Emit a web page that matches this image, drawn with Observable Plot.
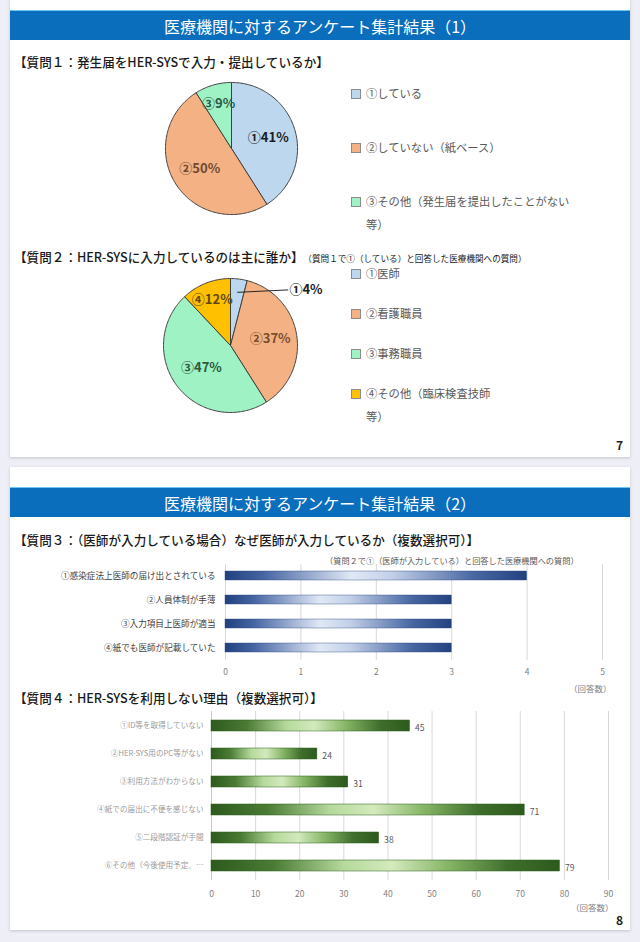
<!DOCTYPE html>
<html><head><meta charset="utf-8">
<script src="https://cdn.jsdelivr.net/npm/d3@7"></script>
<script src="https://cdn.jsdelivr.net/npm/@observablehq/plot@0.6"></script>
<style>
body{margin:0;width:640px;height:942px;background:#eeeef6;font-family:"Noto Sans CJK JP","Noto Sans",sans-serif;position:relative;overflow:hidden}
.card{position:absolute;left:10px;width:620px;background:#fff;box-shadow:0 1px 3px rgba(0,0,0,.18)}
.title{position:absolute;left:10px;width:620px;height:30px;background:#0a6ebd;color:#fff;font-size:16px;line-height:30px;text-align:center;border-top:1px solid #6fc3ee;box-sizing:border-box}
.abs{position:absolute;white-space:nowrap}
.h{font-size:12.6px;color:#1a1a1a;font-weight:500}
.leg{position:absolute;font-size:11.3px;color:#595959;line-height:23px}
.leg i{position:absolute;left:-15px;top:7px;width:8px;height:8px;border:1px solid #8c8c8c}
.pg{font-size:12px;font-weight:700;color:#222}
.unit{font-size:8.5px;color:#7f7f7f}
.plot{position:absolute}
</style></head>
<body>
<div class="card" style="top:-10px;height:467px"></div>
<div class="card" style="top:467px;height:463px"></div>
<div class="title" style="top:10px">医療機関に対するアンケート集計結果（1）</div>
<div class="title" style="top:487px">医療機関に対するアンケート集計結果（2）</div>

<div class="abs h" style="left:14px;top:52px">【質問１：発生届をHER-SYSで入力・提出しているか】</div>
<div class="abs h" style="left:14px;top:247px">【質問２：HER-SYSに入力しているのは主に誰か】<span style="font-size:8.6px;margin-left:4px;font-weight:400">（質問１で①（している）と回答した医療機関への質問）</span></div>
<div class="abs pg" style="left:616px;top:436px">7</div>

<div class="abs h" style="left:14px;top:530px;font-size:12.6px">【質問３：（医師が入力している場合）なぜ医師が入力しているか（複数選択可）】</div>
<div class="abs" style="left:325px;top:554px;font-size:8.2px;color:#595959">（質問２で①（医師が入力している）と回答した医療機関への質問）</div>
<div class="abs unit" style="left:569px;top:682px">（回答数）</div>
<div class="abs h" style="left:14px;top:688px">【質問４：HER-SYSを利用しない理由（複数選択可）】</div>
<div class="abs unit" style="left:571px;top:901px">（回答数）</div>
<div class="abs pg" style="left:616px;top:911px">8</div>

<div id="pie1" class="plot" style="left:161px;top:78px"></div>
<div id="pie2" class="plot" style="left:159px;top:274px"></div>
<div id="leg1"></div>
<div id="leg2"></div>
<div id="q3" class="plot" style="left:0;top:556px"></div>
<div id="q4" class="plot" style="left:0;top:704px"></div>

<script>
// ---------- data ----------
const q1Categories = ["①している", "②していない（紙ベース）", "③その他（発生届を提出したことがない等）"];
const q1Values = [41, 50, 9];
const q1Colors = ["#bdd7ee", "#f4b183", "#9ff2c4"];

const q2Categories = ["①医師", "②看護職員", "③事務職員", "④その他（臨床検査技師等）"];
const q2Values = [4, 37, 47, 12];
const q2Colors = ["#bdd7ee", "#f4b183", "#9ff2c4", "#ffc000"];

const q3Categories = ["①感染症法上医師の届け出とされている", "②人員体制が手薄", "③入力項目上医師が適当", "④紙でも医師が記載していた"];
const q3Values = [4, 3, 3, 3];
const q3Ticks = [0, 1, 2, 3, 4, 5];

const q4Categories = ["①ID等を取得していない", "②HER-SYS用のPC等がない", "③利用方法がわからない", "④紙での届出に不便を感じない", "⑤二段階認証が手間", "⑥その他（今後使用予定、…"];
const q4Values = [45, 24, 31, 71, 38, 79];
const q4Ticks = [0, 10, 20, 30, 40, 50, 60, 70, 80, 90];

// ---------- pies ----------
const FONT = '"Noto Sans CJK JP","Noto Sans",sans-serif';
function pie(el, cats, vals, colors, labelR, labelColors, size, outside) {
  const arcs = d3.pie().sort(null).value(d => d)(vals);
  const pts = [];
  arcs.forEach((a, i) => {
    const n = Math.max(3, Math.ceil((a.endAngle - a.startAngle) / 0.02));
    pts.push({cat: cats[i], x: 0, y: 0});
    for (let k = 0; k <= n; k++) {
      const t = a.startAngle + (a.endAngle - a.startAngle) * k / n;
      pts.push({cat: cats[i], x: Math.sin(t), y: Math.cos(t)});
    }
    pts.push({cat: cats[i], x: 0, y: 0});
  });
  const labels = arcs.map((a, i) => {
    const m = (a.startAngle + a.endAngle) / 2;
    const o = outside && outside[i];
    return {
      text: cats[i].slice(0, 1) + vals[i] + "%",
      x: o ? o.x : labelR[i] * Math.sin(m),
      y: o ? o.y : labelR[i] * Math.cos(m),
      sx: 0.8 * Math.sin(m), sy: 0.8 * Math.cos(m),
      o: !!o, c: labelColors[i]
    };
  });
  const ins = labels.filter(d => !d.o);
  const outs = labels.filter(d => d.o);
  const p = Plot.plot({
    width: size, height: size, margin: 0,
    style: {fontFamily: FONT, background: "transparent", overflow: "visible"},
    x: {domain: [-1.06, 1.06], axis: null},
    y: {domain: [-1.06, 1.06], axis: null},
    color: {domain: cats, range: colors},
    marks: [
      Plot.line(pts, {x: "x", y: "y", z: "cat", fill: "cat", stroke: "#404040", strokeWidth: 1, strokeLinejoin: "round"}),
      Plot.link(outs, {x1: "sx", y1: "sy", x2: d => d.x - 0.02, y2: "y", stroke: "#262626", strokeWidth: 1}),
      Plot.text(ins, {x: "x", y: "y", text: "text", fill: "c", textAnchor: "middle", fontSize: 13, fontWeight: 700}),
      Plot.text(outs, {x: "x", y: "y", text: "text", fill: "c", textAnchor: "start", fontSize: 13, fontWeight: 700})
    ]
  });
  document.getElementById(el).appendChild(p);
}
pie("pie1", q1Categories, q1Values, q1Colors, [0.58, 0.57, 0.70], ["#1c1c1c", "#6e4a33", "#2a5a48"], 140, null);
pie("pie2", q2Categories, q2Values, q2Colors, [0.6, 0.6, 0.55, 0.74], ["#1c1c1c", "#7a4d2e", "#2a5a40", "#5e4a10"], 142,
  [{x: 0.88, y: 0.83}, null, null, null]);

// ---------- legends ----------
function legend(el, cats, colors, left, top0, step, width) {
  const box = document.getElementById(el);
  cats.forEach((c, i) => {
    const d = document.createElement("div");
    d.className = "leg";
    d.style.left = left + "px";
    d.style.top = (top0 + i * step - 11.5) + "px";
    d.style.width = width + "px";
    d.innerHTML = `<i style="background:${colors[i]}"></i>`;
    d.appendChild(document.createTextNode(c));
    box.appendChild(d);
  });
}
legend("leg1", q1Categories, q1Colors, 366, 93, 54, 218);
legend("leg2", q2Categories, q2Colors, 366, 273, 40.3, 138);

// ---------- bars ----------
function addGrad(svg, id, stops) {
  const ns = "http://www.w3.org/2000/svg";
  const defs = document.createElementNS(ns, "defs");
  const g = document.createElementNS(ns, "linearGradient");
  g.setAttribute("id", id);
  g.setAttribute("x1", "0"); g.setAttribute("x2", "1"); g.setAttribute("y1", "0"); g.setAttribute("y2", "0");
  stops.forEach(([o, c]) => {
    const s = document.createElementNS(ns, "stop");
    s.setAttribute("offset", o); s.setAttribute("stop-color", c);
    g.appendChild(s);
  });
  defs.appendChild(g);
  svg.insertBefore(defs, svg.firstChild);
}

const q3Data = q3Categories.map((c, i) => ({cat: c, value: q3Values[i]}));
const q3 = Plot.plot({
  width: 640, height: 130, marginLeft: 225, marginRight: 38, marginTop: 8, marginBottom: 26,
  style: {fontFamily: FONT, background: "transparent"},
  x: {domain: [0, 5]},
  y: {domain: q3Categories, paddingInner: 0.62, paddingOuter: 0.31},
  marks: [
    Plot.gridX(q3Ticks, {stroke: "#d9d9d9", strokeOpacity: 1}),
    Plot.barX(q3Data, {x: "value", y: "cat", fill: "url(#g3)", stroke: "#2a4680", strokeWidth: 0.4}),
    Plot.axisX(q3Ticks, {tickSize: 0, tickPadding: 8, fontSize: 8.5, color: "#7f7f7f", label: null}),
    Plot.axisY({tickSize: 0, tickPadding: 10, fontSize: 8.6, color: "#404040", label: null})
  ]
});
addGrad(q3, "g3", [["0", "#22417f"], ["0.12", "#4262a0"], ["0.42", "#e0e8f5"], ["0.55", "#c3d0e8"], ["0.82", "#4a69a3"], ["1", "#22417f"]]);
document.getElementById("q3").appendChild(q3);

const q4Data = q4Categories.map((c, i) => ({cat: c, value: q4Values[i]}));
const q4 = Plot.plot({
  width: 640, height: 196, marginLeft: 211, marginRight: 32, marginTop: 7, marginBottom: 20,
  style: {fontFamily: FONT, background: "transparent"},
  x: {domain: [0, 90]},
  y: {domain: q4Categories, paddingInner: 0.6, paddingOuter: 0.3},
  marks: [
    Plot.gridX(q4Ticks, {stroke: "#d9d9d9", strokeOpacity: 1}),
    Plot.ruleX([0], {stroke: "#c8c8c8"}),
    Plot.barX(q4Data, {x: "value", y: "cat", fill: "url(#g4)", stroke: "#2f5d1f", strokeWidth: 0.5}),
    Plot.text(q4Data, {x: "value", y: "cat", text: d => String(d.value), dx: 5, dy: 2, textAnchor: "start", fontSize: 8.6, fill: "#595959"}),
    Plot.axisX(q4Ticks, {tickSize: 0, tickPadding: 10, fontSize: 8.5, color: "#7f7f7f", label: null}),
    Plot.axisY({tickSize: 0, tickPadding: 8, fontSize: 7.6, color: "#9a9a9a", label: null})
  ]
});
addGrad(q4, "g4", [["0", "#2d5a1d"], ["0.18", "#4a7b34"], ["0.38", "#b5d99b"], ["0.52", "#d3eabd"], ["0.68", "#86b566"], ["0.85", "#3f6f2c"], ["1", "#2d5a1d"]]);
document.getElementById("q4").appendChild(q4);
</script>
</body></html>
